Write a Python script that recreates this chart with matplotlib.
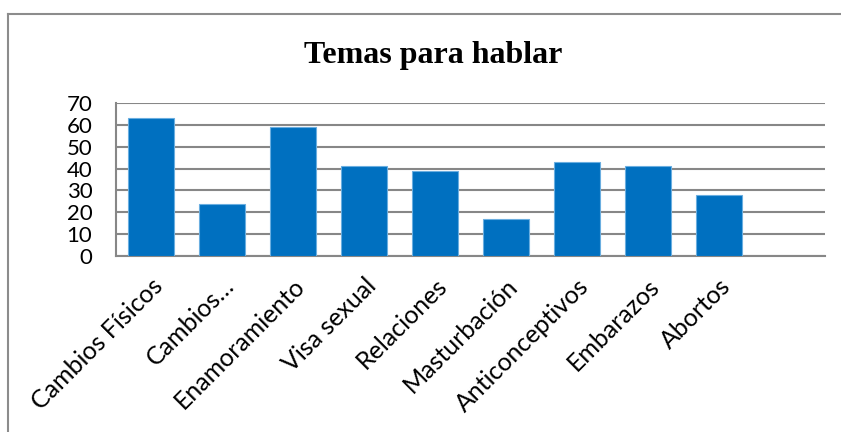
import matplotlib
matplotlib.use("Agg")
import matplotlib.pyplot as plt
from matplotlib.lines import Line2D

categories = ["Cambios Físicos", "Cambios…", "Enamoramiento", "Visa sexual", "Relaciones",
              "Masturbación", "Anticonceptivos", "Embarazos", "Abortos", ""]
values = [63, 24, 59, 41, 39, 17, 43, 41, 28, None]
yticks = [0, 10, 20, 30, 40, 50, 60, 70]
title = "Temas para hablar"

fig = plt.figure(figsize=(8.41, 4.32), dpi=100)
ax = fig.add_axes([116/841, 1-256/432, (825-116)/841, (256-103)/432])

xs = [i for i, v in enumerate(values) if v is not None]
vs = [v for v in values if v is not None]
ax.bar(xs, vs, width=0.65, color="#0070C0", edgecolor="#6aaee0", linewidth=0.8, zorder=3)

ax.set_xlim(-0.5, len(categories) - 0.5)
ax.set_ylim(0, 70)
ax.set_yticks(yticks)
ax.set_yticklabels([str(t) for t in yticks], fontsize=16, family="Lato")
ax.yaxis.grid(True, color="#878787", linewidth=1.5, zorder=0)
ax.set_axisbelow(True)
ax.tick_params(axis="y", length=0, pad=17)
ax.tick_params(axis="x", length=0, pad=13)
ax.set_xticks(range(len(categories)))
ax.set_xticklabels(categories, rotation=45, ha="right", rotation_mode="anchor",
                   fontsize=18, family="Lato")
for s in ["top", "right"]:
    ax.spines[s].set_visible(False)
for s in ["left", "bottom"]:
    ax.spines[s].set_color("#878787")
    ax.spines[s].set_linewidth(1.5)

fig.text(433/841, 1-55/432, title, ha="center", va="center", fontsize=23,
         fontweight="bold", family="Liberation Serif")

fig.add_artist(Line2D([8/841, 8/841], [0, 1-14/432], transform=fig.transFigure,
                      color="#8c8c8c", linewidth=1.5))
fig.add_artist(Line2D([8/841, 1], [1-14/432, 1-14/432], transform=fig.transFigure,
                      color="#8c8c8c", linewidth=1.5))

fig.savefig("out.png", dpi=100)
